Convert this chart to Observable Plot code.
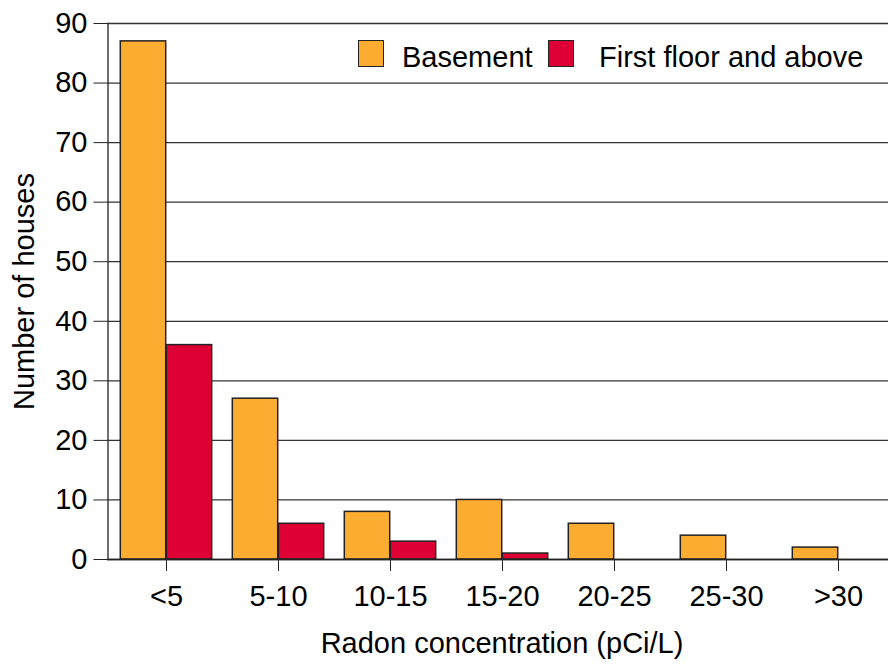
<!DOCTYPE html>
<html>
<head>
<meta charset="utf-8">
<script src="https://cdn.jsdelivr.net/npm/d3@7"></script>
<script src="https://cdn.jsdelivr.net/npm/@observablehq/plot@0.6"></script>
<style>
  body { margin: 0; background: #fff; font-family: "Liberation Sans", Arial, sans-serif; }
  #wrap { position: relative; width: 888px; height: 664px; overflow: hidden; background: #fff; }
  #wrap svg { position: absolute; left: 0; top: 0; max-width: none !important; }
  .sw { position: absolute; width: 24px; height: 25px; border: 1.5px solid #222; }
  .lt { position: absolute; font-size: 29px; line-height: 29px; color: #000; white-space: nowrap; }
</style>
</head>
<body>
<div id="wrap"></div>
<script>
const categories = ["<5", "5-10", "10-15", "15-20", "20-25", "25-30", ">30"];
const basement = [87, 27, 8, 10, 6, 4, 2];
const firstFloor = [36, 6, 3, 1, 0, 0, 0];
const seriesNames = ["Basement", "First floor and above"];
const yTicks = [0, 10, 20, 30, 40, 50, 60, 70, 80, 90];

const orange = "#FCAD31";
const red = "#DE0035";

const rowsB = categories.map((c, i) => ({category: c, value: basement[i]}));
const rowsF = categories.map((c, i) => ({category: c, value: firstFloor[i]}));

const chart = Plot.plot({
  width: 896,
  height: 664,
  marginLeft: 107.5,
  marginRight: 0.5,
  marginTop: 23,
  marginBottom: 105,
  style: {fontFamily: "'Liberation Sans', Arial, sans-serif", fontSize: "29px", color: "#000", background: "transparent", maxWidth: "none"},
  x: {domain: categories, padding: 0, label: null},
  y: {domain: [0, 90], label: null},
  marks: [
    Plot.gridY(yTicks, {stroke: "#333", strokeOpacity: 1, strokeWidth: 1.3}),
    Plot.barY(rowsB.filter(d => d.value > 0), {x: "category", y: "value", fill: orange, stroke: "#222", strokeWidth: 1.5, insetLeft: 10.3, insetRight: 56.3}),
    Plot.barY(rowsF.filter(d => d.value > 0), {x: "category", y: "value", fill: red, stroke: "#222", strokeWidth: 1.5, insetLeft: 56.3, insetRight: 10.3}),
    Plot.ruleY([0], {stroke: "#222", strokeWidth: 1.5}),
    Plot.frame({anchor: "left", stroke: "#222", strokeWidth: 1.3}),
    Plot.axisY(yTicks, {tickSize: 14, tickPadding: 6.5, stroke: "#222", label: "Number of houses", labelAnchor: "center", labelOffset: 95, labelArrow: false}),
    Plot.axisX({tickSize: 12, tickPadding: 14, stroke: "#222", label: "Radon concentration (pCi/L)", labelAnchor: "center", labelOffset: 93, labelArrow: false})
  ]
});

const wrap = document.getElementById("wrap");
wrap.appendChild(chart);

// legend
const legendItems = [
  {name: seriesNames[0], color: orange, sx: 358, tx: 402},
  {name: seriesNames[1], color: red, sx: 548, tx: 599}
];
for (const it of legendItems) {
  const s = document.createElement("div");
  s.className = "sw";
  s.style.left = it.sx + "px";
  s.style.top = "40px";
  s.style.background = it.color;
  wrap.appendChild(s);
  const t = document.createElement("div");
  t.className = "lt";
  t.style.left = it.tx + "px";
  t.style.top = "43px";
  t.textContent = it.name;
  wrap.appendChild(t);
}
</script>
</body>
</html>
